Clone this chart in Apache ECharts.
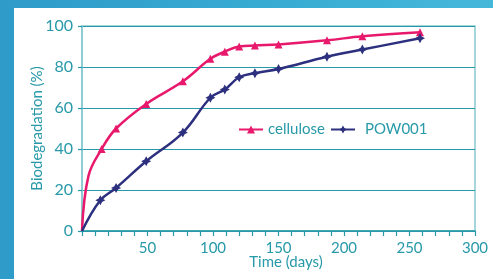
<!DOCTYPE html>
<html><head><meta charset="utf-8">
<script src="https://cdn.jsdelivr.net/npm/echarts@6/dist/echarts.min.js"></script>
<style>
html,body{margin:0;padding:0;width:493px;height:279px;overflow:hidden;}
body{background:linear-gradient(90deg,#2e9bc8 0%,#37aad2 50%,#45b8da 100%);position:relative;}
#c{position:absolute;left:14px;top:8px;width:479px;height:271px;background:#fff;}
</style></head>
<body><div id="c"></div>
<script>
const celluloseDays = [0, 5, 15, 26, 49, 77, 98, 109, 120, 132, 150, 187, 214, 258];
const celluloseVals = [0, 27, 40, 50, 62, 73, 84, 87.5, 90, 90.5, 91, 93, 95, 97];
const powDays = [0, 14, 26, 49, 77, 98, 109, 120, 132, 150, 187, 214, 258];
const powVals = [0, 15, 21, 34, 48, 65, 69, 75, 77, 79, 85, 88.5, 94];
const yTicks = [0, 20, 40, 60, 80, 100];
const xTicks = [0, 50, 100, 150, 200, 250, 300];

const teal = '#2799a8';
const lightTeal = '#86c9d0';
const pink = '#e8196c';
const navy = '#2d307e';
const star = 'path://M0,-10 L3.5,-3.5 L10,0 L3.5,3.5 L0,10 L-3.5,3.5 L-10,0 L-3.5,-3.5 Z';
const font = 'Lato';

function pts(xs, ys, hide) {
  return xs.map((x, i) => {
    const p = {value: [x, ys[i]]};
    if (hide.includes(x)) p.symbol = 'none';
    return p;
  });
}

const chart = echarts.init(document.getElementById('c'));
chart.setOption({
  animation: false,
  textStyle: {fontFamily: font},
  grid: {left: 68, top: 18, right: 18, bottom: 48, show: true, borderColor: lightTeal, borderWidth: 1.5},
  legend: [
    {data: ['cellulose'], left: 219, top: 109, itemWidth: 24, itemHeight: 10, itemGap: 0,
     textStyle: {color: teal, fontSize: 15, fontFamily: font, padding: [0,0,0,0]}},
    {data: ['POW001'], left: 311, top: 109, itemWidth: 24, itemHeight: 10,
     textStyle: {color: teal, fontSize: 15, fontFamily: font, padding: [0,0,0,5]}}
  ],
  xAxis: {
    type: 'value', min: xTicks[0], max: xTicks[xTicks.length-1], interval: 50,
    name: 'Time (days)', nameLocation: 'middle', nameGap: 24, nameMoveOverlap: false,
    nameTextStyle: {color: teal, fontSize: 15, fontFamily: font, padding: [0,0,0,15]},
    axisLine: {show: true, lineStyle: {color: teal, width: 1.5}},
    axisTick: {show: true, length: 5, lineStyle: {color: teal, width: 1.2}},
    minorTick: {show: true, splitNumber: 5, length: 5, lineStyle: {color: teal, width: 1.2}},
    splitLine: {show: false},
    axisLabel: {color: teal, fontSize: 15, fontFamily: font, margin: 10,
      formatter: v => v === 0 ? '' : String(v)}
  },
  yAxis: {
    type: 'value', min: yTicks[0], max: yTicks[yTicks.length-1], interval: 20,
    name: 'Biodegradation (%)', nameLocation: 'middle', nameGap: 37, nameMoveOverlap: false,
    nameTextStyle: {color: teal, fontSize: 15, fontFamily: font},
    axisLine: {show: true, lineStyle: {color: lightTeal, width: 1.5}},
    axisTick: {show: true, length: 4, lineStyle: {color: teal, width: 1.2}},
    splitLine: {show: true, lineStyle: {color: teal, width: 1.2}},
    axisLabel: {color: teal, fontSize: 16, fontFamily: font, margin: 9}
  },
  series: [
    {name: 'cellulose', type: 'line', smooth: 0.4, data: pts(celluloseDays, celluloseVals, [0, 5]),
     symbol: 'triangle', symbolSize: 8, color: pink, lineStyle: {color: pink, width: 2.5},
     itemStyle: {color: pink}, z: 3},
    {name: 'POW001', type: 'line', smooth: 0.4, data: pts(powDays, powVals, [0]),
     symbol: star, symbolSize: 10, color: navy, lineStyle: {color: navy, width: 2.5},
     itemStyle: {color: navy}, z: 4}
  ]
});
</script></body></html>
